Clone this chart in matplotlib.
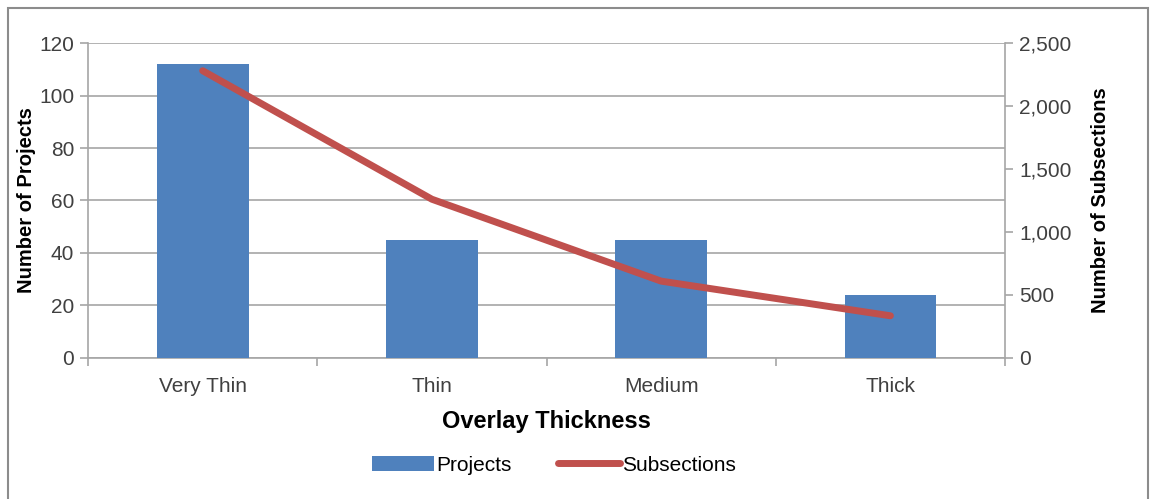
import numpy as np
import matplotlib.pyplot as plt
from matplotlib.patches import Rectangle
from matplotlib.ticker import FuncFormatter

plt.rcParams['font.family'] = ['Liberation Sans', 'DejaVu Sans']

categories = ['Very Thin', 'Thin', 'Medium', 'Thick']
projects = [112, 45, 45, 24]
subsections = [2280, 1260, 610, 335]

fig = plt.figure(figsize=(11.54, 4.99), dpi=100)
fig.patches.append(Rectangle((8 / 1154, -0.1), 1140 / 1154, 1.1 - 8 / 499,
                             transform=fig.transFigure, fill=False,
                             edgecolor='#8c8c8c', linewidth=1.5))

ax = fig.add_axes([0.0763, 0.2826, 0.7946, 0.6312])
x = np.arange(len(categories))
grid_c = '#a6a6a6'
text_c = '#404040'

bars = ax.bar(x, projects, width=0.4, color='#4F81BD', label='Projects', zorder=3)
ax.set_xlim(-0.5, 3.5)
ax.set_ylim(0, 120)
ax.set_yticks(range(0, 121, 20))
ax.yaxis.grid(True, color=grid_c, linewidth=1.2, zorder=0)
ax.set_xticks(x)
ax.set_xticklabels(categories)
ax.set_xticks(np.arange(-0.5, 3.6, 1), minor=True)
ax.tick_params(axis='x', which='major', length=0, pad=14, labelsize=15, labelcolor=text_c)
ax.tick_params(axis='x', which='minor', length=6, color=grid_c, width=1.2)
ax.tick_params(axis='y', length=6, color=grid_c, width=1.2, labelsize=15, labelcolor=text_c, pad=4)
for s in ['top', 'right']:
    ax.spines[s].set_visible(False)
for s in ['left', 'bottom']:
    ax.spines[s].set_color(grid_c)
    ax.spines[s].set_linewidth(1.2)
ax.set_ylabel('Number of Projects', fontsize=14.5, fontweight='bold', labelpad=2)
ax.set_xlabel('Overlay Thickness', fontsize=17, fontweight='bold', labelpad=10)

ax2 = ax.twinx()
line, = ax2.plot(x, subsections, color='#C0504D', linewidth=5, solid_capstyle='round',
                 label='Subsections', zorder=4)
ax2.set_ylim(0, 2500)
ax2.set_yticks(range(0, 2501, 500))
ax2.yaxis.set_major_formatter(FuncFormatter(lambda v, p: f'{int(v):,}'))
ax2.tick_params(axis='y', length=6, color=grid_c, width=1.2, labelsize=15, labelcolor=text_c, pad=4)
for s in ['top', 'left', 'bottom']:
    ax2.spines[s].set_visible(False)
ax2.spines['right'].set_color(grid_c)
ax2.spines['right'].set_linewidth(1.2)
ax2.set_ylabel('Number of Subsections', fontsize=14.5, fontweight='bold', labelpad=14)

fig.legend([bars, line], ['Projects', 'Subsections'], loc='center', bbox_to_anchor=(0.48, 0.068),
           ncol=2, frameon=False, fontsize=15, handlelength=3.0, handletextpad=0.1,
           columnspacing=2.2)

fig.savefig('out.png', dpi=100)
